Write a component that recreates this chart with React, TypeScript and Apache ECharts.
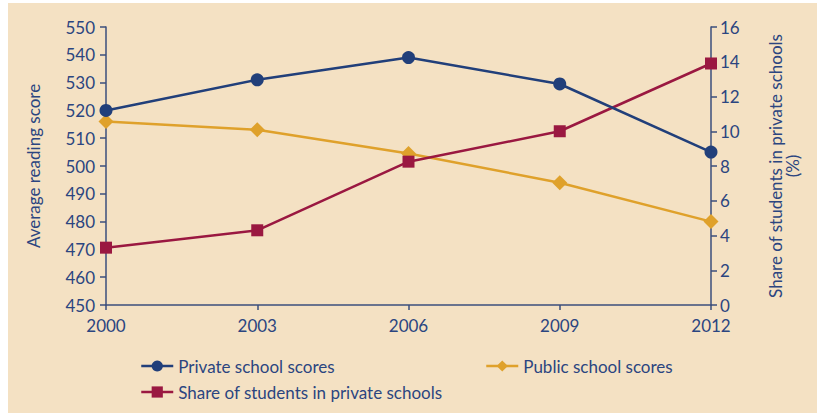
import React, { useEffect, useRef } from "react";
import * as echarts from "echarts";

const years = ["2000", "2003", "2006", "2009", "2012"];
const privateScores = [520, 531, 539, 529.5, 505];
const publicScores = [516, 513, 504.5, 494, 480];
const privateShare = [3.3, 4.3, 8.25, 10.0, 13.9];

const NAVY = "#213f7a";
const GOLD = "#dfa12b";
const CRIMSON = "#9a1841";
const TEXT = "#2b4580";
const AXIS = "#3b4e7c";
const BG = "#f4e1c3";
const FONT = "Lato";

export default function App() {
  const ref = useRef<HTMLDivElement>(null);
  useEffect(() => {
    if (!ref.current) return;
    const chart = echarts.init(ref.current, null, { renderer: "svg" });
    const legendText = { color: TEXT, fontFamily: FONT, fontSize: 17, lineHeight: 20 };
    const legendBase = {
      padding: 0,
      itemWidth: 32,
      itemHeight: 14,
      itemGap: 5,
      textStyle: legendText,
      lineStyle: { width: 2.5 },
    };
    chart.setOption({
      animation: false,
      backgroundColor: BG,
      textStyle: { fontFamily: FONT },
      grid: { left: 98, right: 106, top: 24, bottom: 108 },
      legend: [
        { ...legendBase, data: ["Private school scores"], left: 132, top: 353 },
        { ...legendBase, data: ["Public school scores"], left: 477, top: 353 },
        { ...legendBase, data: ["Share of students in private schools"], left: 132, top: 379 },
      ],
      xAxis: {
        type: "category",
        data: years,
        boundaryGap: false,
        axisLine: { lineStyle: { color: AXIS, width: 1.5 } },
        axisTick: { alignWithLabel: true, length: 5, lineStyle: { color: AXIS, width: 1.5 } },
        axisLabel: { color: TEXT, fontSize: 17, fontFamily: FONT, margin: 12, lineHeight: 17 },
      },
      yAxis: [
        {
          type: "value",
          min: 450,
          max: 550,
          interval: 10,
          name: "Average reading score",
          nameLocation: "middle",
          nameRotate: 90,
          nameGap: 64,
          nameTextStyle: { color: TEXT, fontSize: 17, fontFamily: FONT },
          axisLine: { show: true, lineStyle: { color: AXIS, width: 1.5 } },
          axisTick: { show: true, length: 6, lineStyle: { color: AXIS, width: 1.5 } },
          axisLabel: { color: TEXT, fontSize: 17, fontFamily: FONT, margin: 11, lineHeight: 16 },
          splitLine: { show: false },
        },
        {
          type: "value",
          min: 0,
          max: 16,
          interval: 2,
          position: "right",
          name: "Share of students in private schools\n(%)",
          nameLocation: "middle",
          nameRotate: 90,
          nameGap: 56,
          nameTextStyle: { color: TEXT, fontSize: 17, fontFamily: FONT, lineHeight: 17, align: "center" },
          axisLine: { show: true, lineStyle: { color: AXIS, width: 1.5 } },
          axisTick: { show: true, length: 6, lineStyle: { color: AXIS, width: 1.5 } },
          axisLabel: { color: TEXT, fontSize: 17, fontFamily: FONT, margin: 9, lineHeight: 16 },
          splitLine: { show: false },
        },
      ],
      series: [
        {
          name: "Private school scores",
          type: "line",
          yAxisIndex: 0,
          data: privateScores,
          symbol: "circle",
          symbolSize: 13,
          color: NAVY,
          lineStyle: { color: NAVY, width: 2.5 },
          itemStyle: { color: NAVY },
          z: 3,
        },
        {
          name: "Public school scores",
          type: "line",
          yAxisIndex: 0,
          data: publicScores,
          symbol: "diamond",
          symbolSize: 15,
          color: GOLD,
          lineStyle: { color: GOLD, width: 2.5 },
          itemStyle: { color: GOLD },
          z: 2,
        },
        {
          name: "Share of students in private schools",
          type: "line",
          yAxisIndex: 1,
          data: privateShare,
          symbol: "rect",
          symbolSize: 12,
          color: CRIMSON,
          lineStyle: { color: CRIMSON, width: 2.5 },
          itemStyle: { color: CRIMSON },
          z: 2,
        },
      ],
    });
    return () => chart.dispose();
  }, []);
  return (
    <div
      ref={ref}
      style={{ position: "absolute", left: 8, top: 3, width: 809, height: 410 }}
    />
  );
}
